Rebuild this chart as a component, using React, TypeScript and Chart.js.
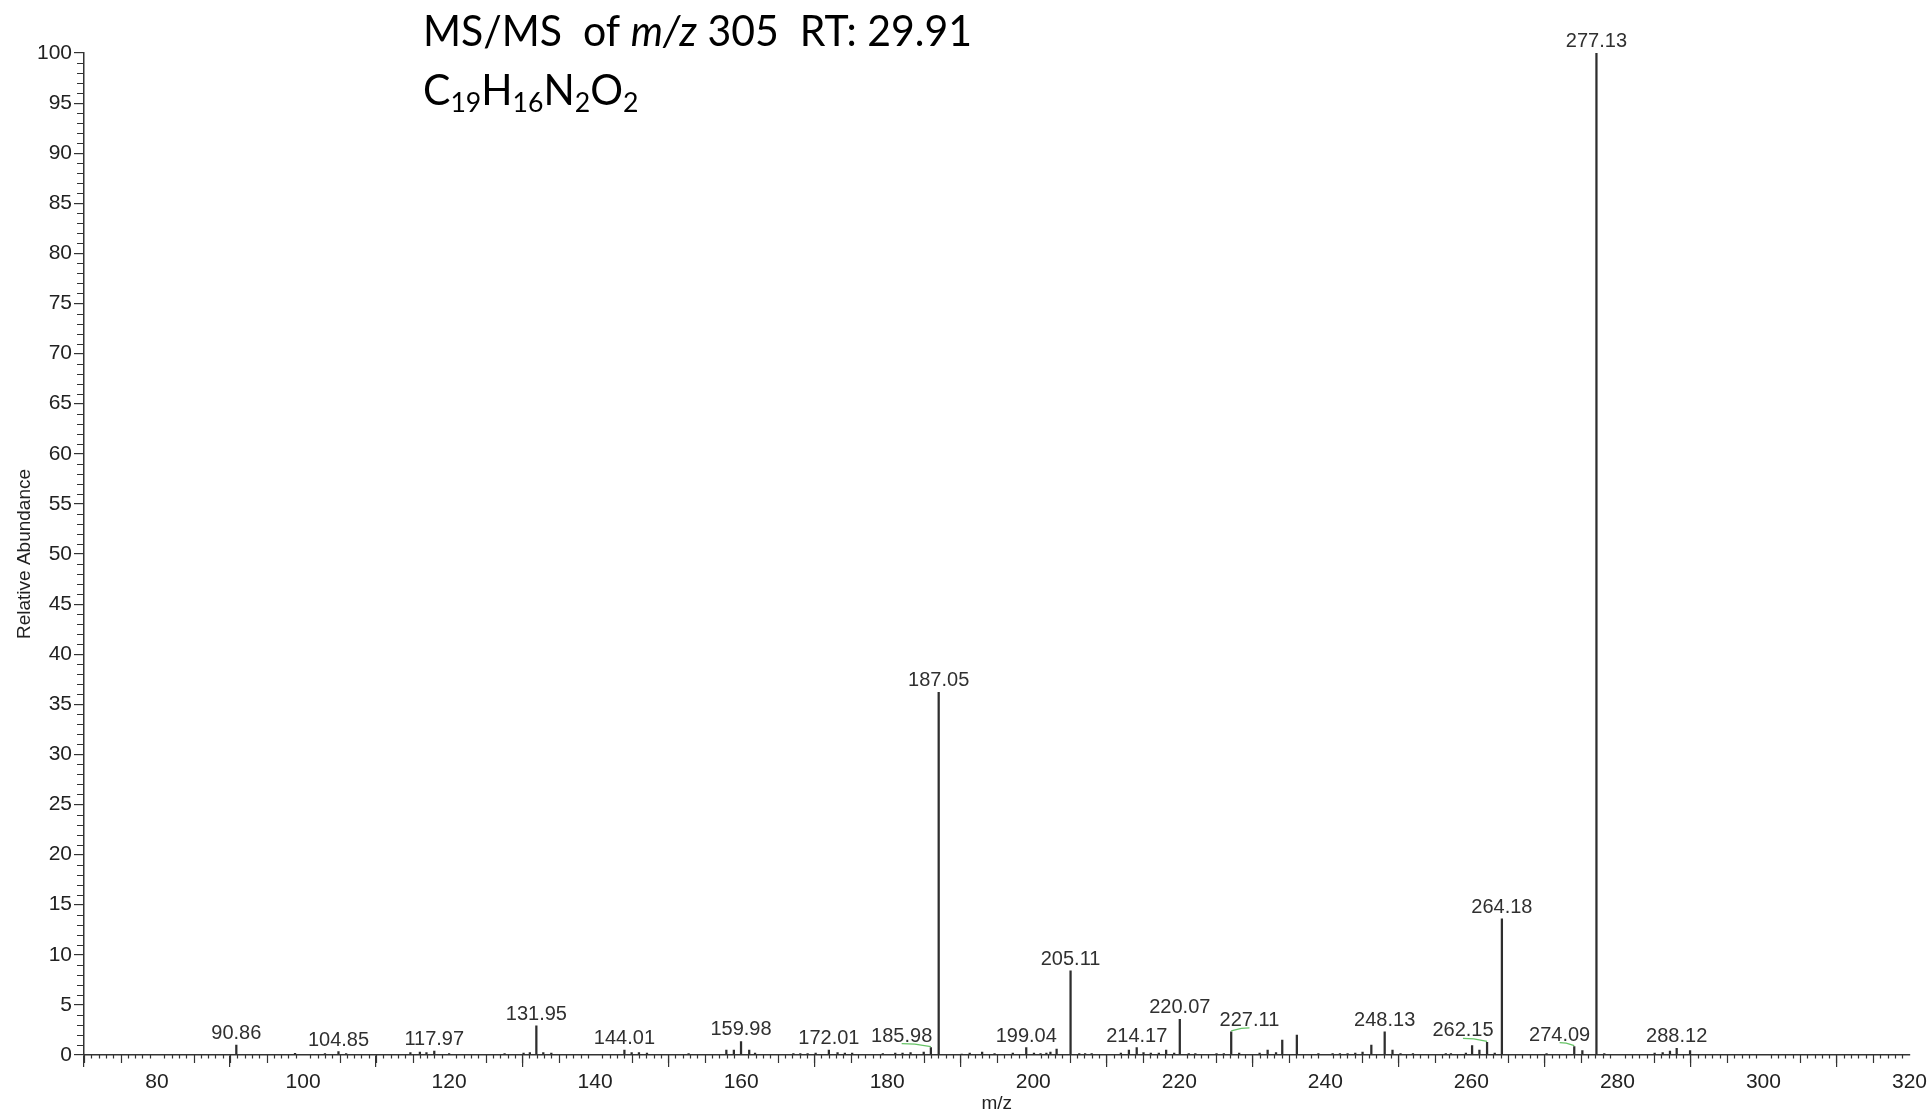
import React, { useEffect, useRef } from 'react';
import { Chart, registerables } from 'chart.js';

Chart.register(...registerables);

const W = 1930;
const H = 1116;

// ---- data ----
const peakMz = [
  90.86, 98.9, 103.0, 104.85, 105.9, 114.7, 116.0, 116.9, 117.97, 120.0,
  127.6, 130.2, 131.06, 131.95, 132.9, 134.0, 144.01, 145.0, 146.0, 147.1,
  152.8, 157.97, 159.0, 159.98, 161.1, 161.9, 167.15, 168.1, 169.1, 170.2,
  172.01, 173.2, 174.2, 175.2, 179.4, 181.1, 182.1, 183.2, 185.0, 185.98,
  187.05, 190.2, 191.3, 193.0, 194.7, 197.2, 199.04, 200.1, 201.0, 201.8,
  202.35, 203.2, 205.11, 206.3, 207.1, 208.0, 212.0, 213.1, 214.17, 215.1,
  216.1, 217.2, 218.2, 219.3, 220.07, 221.3, 222.2, 225.1, 226.1, 227.11,
  228.2, 231.0, 232.1, 233.25, 234.1, 236.1, 239.05, 241.0, 242.0, 243.05,
  244.1, 245.1, 246.3, 248.13, 249.2, 250.3, 252.0, 256.5, 257.2, 259.25,
  260.1, 261.1, 262.15, 263.2, 264.18, 270.3, 274.09, 275.2, 277.13, 278.2,
  285.1, 286.2, 287.2, 288.12, 289.95,
];
const peakIntensity = [
  1.0, 0.17, 0.15, 0.33, 0.15, 0.25, 0.3, 0.25, 0.4, 0.15,
  0.15, 0.2, 0.25, 2.9, 0.25, 0.2, 0.5, 0.25, 0.25, 0.2,
  0.15, 0.5, 0.5, 1.35, 0.5, 0.2, 0.15, 0.15, 0.15, 0.2,
  0.5, 0.25, 0.2, 0.2, 0.15, 0.2, 0.2, 0.25, 0.3, 0.73,
  36.2, 0.1, 0.2, 0.3, 0.15, 0.2, 0.73, 0.2, 0.15, 0.2,
  0.3, 0.6, 8.4, 0.15, 0.15, 0.15, 0.2, 0.5, 0.73, 0.25,
  0.2, 0.2, 0.5, 0.2, 3.56, 0.15, 0.15, 0.15, 0.15, 2.3,
  0.2, 0.2, 0.5, 0.25, 1.5, 2.0, 0.15, 0.15, 0.15, 0.15,
  0.2, 0.3, 1.0, 2.3, 0.5, 0.15, 0.15, 0.15, 0.15, 0.2,
  0.93, 0.5, 1.26, 0.2, 13.6, 0.15, 0.83, 0.43, 100, 0.15,
  0.2, 0.25, 0.4, 0.67, 0.43,
];
const labelledMz = [
  90.86, 104.85, 117.97, 131.95, 144.01, 159.98, 172.01, 185.98, 187.05, 199.04,
  205.11, 214.17, 220.07, 227.11, 248.13, 262.15, 264.18, 274.09, 277.13, 288.12,
];
// labels moved aside (m/z units), joined to their peak by a green line
const labelShiftMz: Record<string, number> = {
  '185.98': -4.0,
  '227.11': 2.5,
  '262.15': -3.3,
  '274.09': -2.0,
};

const xMin = 70;
const xMax = 320;
const xLabelStep = 20;
const yMin = 0;
const yMax = 100;
const yLabelStep = 5;

const xTitle = 'm/z';
const yTitle = 'Relative Abundance';
const titleSegments = [
  { text: 'MS/MS  of ', italic: false },
  { text: 'm/z', italic: true },
  { text: ' 305  RT: 29.91', italic: false },
];
const formulaParts: [string, string][] = [
  ['C', '19'],
  ['H', '16'],
  ['N', '2'],
  ['O', '2'],
];

const SANS = '"Liberation Sans", Arial, sans-serif';
const TITLE_FONT = 'Lato, "Open Sans", sans-serif';
const AXIS_COLOR = '#333333';
const TEXT_COLOR = '#222222';

const minorTicksPlugin = {
  id: 'minorTicks',
  afterDraw(chart: any) {
    const { ctx, chartArea, scales } = chart;
    const xs = scales.x;
    const ys = scales.y;
    ctx.save();
    ctx.strokeStyle = AXIS_COLOR;
    ctx.lineWidth = 1.2;
    ctx.beginPath();
    for (let v = xMin; v <= xMax; v += 1) {
      if (v % xLabelStep === 0) continue;
      const len = v % 5 === 0 ? 8 : 3.5;
      const px = Math.round(xs.getPixelForValue(v)) + 0.5;
      ctx.moveTo(px, chartArea.bottom);
      ctx.lineTo(px, chartArea.bottom + len);
    }
    for (let v = yMin; v <= yMax; v += 1) {
      if (v % yLabelStep === 0) continue;
      const py = Math.round(ys.getPixelForValue(v)) + 0.5;
      ctx.moveTo(chartArea.left, py);
      ctx.lineTo(chartArea.left - 7, py);
    }
    ctx.stroke();
    ctx.restore();
  },
};

const peakLabelPlugin = {
  id: 'peakLabels',
  afterDatasetsDraw(chart: any) {
    const { ctx, scales } = chart;
    const meta = chart.getDatasetMeta(0);
    ctx.save();
    ctx.font = `20px ${SANS}`;
    ctx.fillStyle = '#303030';
    ctx.textAlign = 'center';
    ctx.textBaseline = 'alphabetic';
    labelledMz.forEach((mz) => {
      const idx = peakMz.indexOf(mz);
      if (idx < 0) return;
      const el = meta.data[idx];
      const peakX = el.x;
      const peakTop = el.y;
      const key = mz.toFixed(2);
      const shift = labelShiftMz[key];
      const labelX = shift !== undefined ? scales.x.getPixelForValue(mz + shift) : peakX;
      const baseY = peakTop - 6;
      ctx.fillText(key, labelX, baseY);
      if (shift !== undefined) {
        ctx.save();
        ctx.strokeStyle = '#66c466';
        ctx.lineWidth = 1.3;
        ctx.beginPath();
        const midX = labelX + (peakX - labelX) * 0.45;
        ctx.moveTo(labelX, baseY + 2);
        ctx.lineTo(midX, baseY + 2.5);
        ctx.lineTo(peakX, peakTop - 1);
        ctx.stroke();
        ctx.restore();
      }
    });
    ctx.restore();
  },
};

const headerPlugin = {
  id: 'header',
  afterDraw(chart: any) {
    const { ctx } = chart;
    ctx.save();
    ctx.fillStyle = '#000000';
    ctx.textBaseline = 'alphabetic';
    ctx.textAlign = 'left';
    const size = 42;
    let total = 0;
    titleSegments.forEach((s) => {
      ctx.font = `${s.italic ? 'italic ' : ''}${size}px ${TITLE_FONT}`;
      total += ctx.measureText(s.text).width;
    });
    const sx = 549 / total;
    // line 1
    ctx.save();
    ctx.translate(423, 46);
    ctx.scale(sx, 1);
    let x = 0;
    titleSegments.forEach((s) => {
      ctx.font = `${s.italic ? 'italic ' : ''}${size}px ${TITLE_FONT}`;
      ctx.fillText(s.text, x, 0);
      x += ctx.measureText(s.text).width;
    });
    ctx.restore();
    // line 2
    ctx.save();
    ctx.translate(423, 105);
    ctx.scale(sx, 1);
    x = 0;
    const subSize = size * 0.65;
    formulaParts.forEach(([el, sub]) => {
      ctx.font = `${size}px ${TITLE_FONT}`;
      ctx.fillText(el, x, 0);
      x += ctx.measureText(el).width;
      ctx.font = `${subSize}px ${TITLE_FONT}`;
      ctx.fillText(sub, x, size * 0.16);
      x += ctx.measureText(sub).width;
    });
    ctx.restore();
    ctx.restore();
  },
};

export default function App() {
  const ref = useRef<HTMLCanvasElement | null>(null);

  useEffect(() => {
    const canvas = ref.current;
    if (!canvas) return;
    const chart = new Chart(canvas, {
      type: 'bar',
      data: {
        datasets: [
          {
            data: peakMz.map((m, i) => ({ x: m, y: peakIntensity[i] })) as any,
            backgroundColor: '#2e2e2e',
            borderWidth: 0,
            barThickness: 1.6,
          },
        ],
      },
      options: {
        animation: false,
        responsive: false,
        maintainAspectRatio: false,
        devicePixelRatio: 1,
        layout: { padding: { top: 53, right: 20, left: 0, bottom: 0 } },
        plugins: {
          legend: { display: false },
          tooltip: { enabled: false },
          title: { display: false },
        },
        scales: {
          x: {
            type: 'linear',
            min: xMin,
            max: xMax,
            offset: false,
            ticks: {
              stepSize: xLabelStep,
              includeBounds: false,
              autoSkip: false,
              maxRotation: 0,
              padding: 3,
              color: TEXT_COLOR,
              font: { family: SANS, size: 21 },
            },
            grid: {
              drawOnChartArea: false,
              drawTicks: true,
              tickLength: 12,
              color: AXIS_COLOR,
              lineWidth: 1.2,
            },
            border: { display: true, color: AXIS_COLOR, width: 1.5 },
            title: {
              display: true,
              text: xTitle,
              color: TEXT_COLOR,
              font: { family: SANS, size: 19 },
              padding: { top: 0, bottom: 1 },
            },
            afterFit: (s: any) => {
              s.height = H - 1055;
            },
          } as any,
          y: {
            type: 'linear',
            min: yMin,
            max: yMax,
            ticks: {
              stepSize: yLabelStep,
              autoSkip: false,
              padding: 2,
              color: TEXT_COLOR,
              font: { family: SANS, size: 21 },
            },
            grid: {
              drawOnChartArea: false,
              drawTicks: true,
              tickLength: 10,
              color: AXIS_COLOR,
              lineWidth: 1.2,
            },
            border: { display: true, color: AXIS_COLOR, width: 1.5 },
            title: {
              display: true,
              text: yTitle,
              color: TEXT_COLOR,
              font: { family: SANS, size: 19 },
              padding: { top: 13, bottom: 0 },
            },
            afterFit: (s: any) => {
              s.width = 84;
            },
          } as any,
        },
      },
      plugins: [minorTicksPlugin, peakLabelPlugin, headerPlugin],
    });
    return () => chart.destroy();
  }, []);

  return (
    <div style={{ position: 'fixed', left: 0, top: 0, width: W, height: H, background: '#ffffff' }}>
      <canvas ref={ref} width={W} height={H} style={{ display: 'block', width: W, height: H }} />
    </div>
  );
}
